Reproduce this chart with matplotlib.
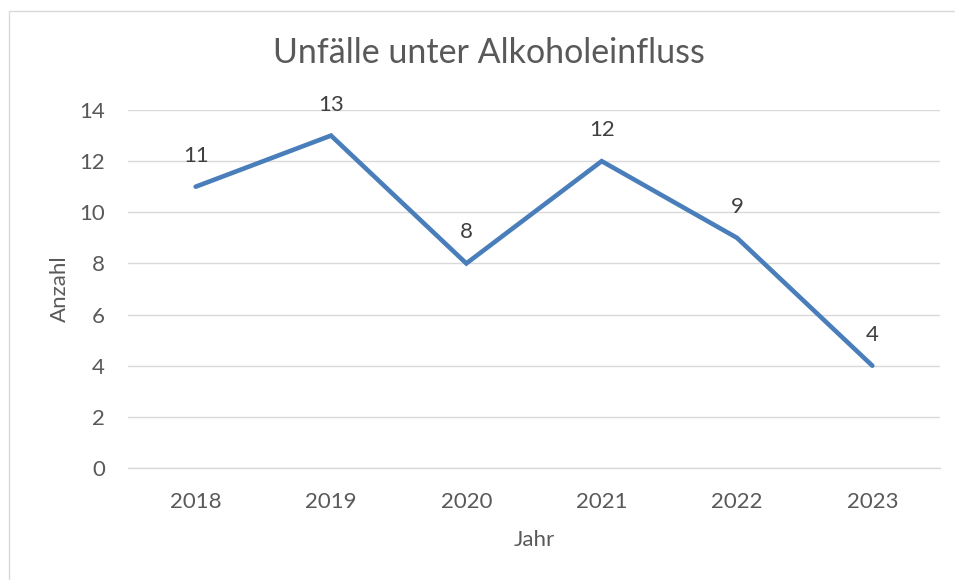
import matplotlib
matplotlib.use("Agg")
import matplotlib.pyplot as plt
from matplotlib.patches import Rectangle

years = ["2018", "2019", "2020", "2021", "2022", "2023"]
counts = [11, 13, 8, 12, 9, 4]
title = "Unfälle unter Alkoholeinfluss"
xlabel = "Jahr"
ylabel = "Anzahl"
yticks = [0, 2, 4, 6, 8, 10, 12, 14]

plt.rcParams['font.family'] = ['Lato', 'DejaVu Sans']
text_color = "#595959"
line_color = "#4A7EBB"
grid_color = "#D9D9D9"

W, H = 955, 580
fig = plt.figure(figsize=(W / 100, H / 100), dpi=100)
fig.patch.set_facecolor("white")

# outer chart border
fig.add_artist(Rectangle((8.5 / W, -0.1), 1.2, (H - 10.5) / H + 0.1,
                         transform=fig.transFigure, fill=False,
                         edgecolor="#D9D9D9", linewidth=1.0))

left, right, top, bottom = 128, 940, 110, 468
ax = fig.add_axes([left / W, 1 - bottom / H, (right - left) / W, (bottom - top) / H])

x = list(range(len(years)))
ax.plot(x, counts, color=line_color, linewidth=3.3, solid_capstyle="round",
        solid_joinstyle="miter", zorder=3)

for xi, v in zip(x, counts):
    ax.annotate(str(v), (xi, v), xytext=(0, 31), textcoords="offset pixels",
                ha="center", va="center", fontsize=16, color="#404040")

ax.set_xlim(-0.5, len(years) - 0.5)
ax.set_ylim(0, 14)
ax.set_yticks(yticks)
ax.set_yticklabels([str(t) for t in yticks])
ax.set_xticks(x)
ax.set_xticklabels(years)
ax.grid(axis="y", color=grid_color, linewidth=1.0)
ax.set_axisbelow(True)
for s in ["left", "right", "top"]:
    ax.spines[s].set_visible(False)
ax.spines["bottom"].set_color(grid_color)
ax.spines["bottom"].set_linewidth(1.0)
ax.tick_params(axis="both", length=0, labelsize=16, colors=text_color)
ax.tick_params(axis="y", pad=16.5)
ax.tick_params(axis="x", pad=17)

ax.set_xlabel(xlabel, fontsize=16, color=text_color, va="center")
ax.xaxis.set_label_coords(0.5, -(540 - bottom) / (bottom - top))
ax.set_ylabel(ylabel, fontsize=16, color=text_color, va="center")
ax.yaxis.set_label_coords(-(left - 60) / (right - left), 0.5)

fig.text(489 / W, 1 - 53 / H, title, ha="center", va="center",
         fontsize=24.5, color=text_color)

fig.savefig("out.png", dpi=100, facecolor="white")
